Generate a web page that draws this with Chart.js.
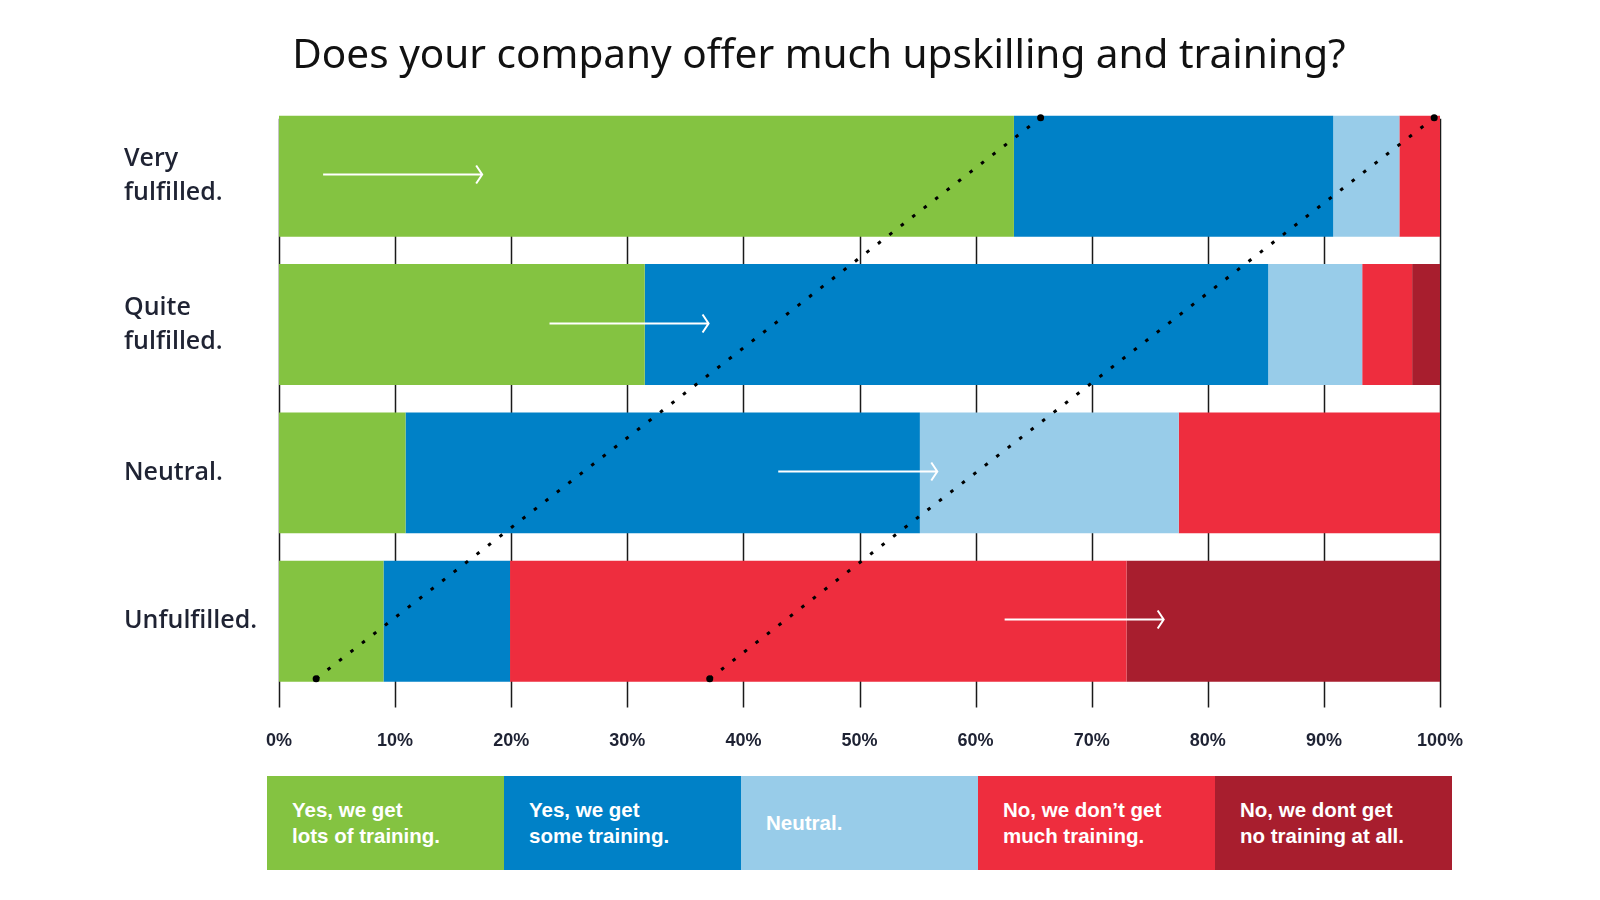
<!DOCTYPE html>
<html>
<head>
<meta charset="utf-8">
<script src="https://cdn.jsdelivr.net/npm/chart.js@4.4.0/dist/chart.umd.min.js"></script>
<style>
  body { margin: 0; background: #fff; }
  #wrap { position: relative; width: 1600px; height: 900px; }
  #chart { position: absolute; left: 0; top: 0; }
  #title { position: absolute; left: 38px; width: 1562px; top: 29px; text-align: center; color: #111;
    font: 40.5px "Noto Sans", sans-serif; line-height: 48px; }
  #legend { position: absolute; left: 267px; top: 776px; width: 1185px; height: 94px; display: flex; }
  #legend div { flex: 1; display: flex; align-items: center; padding-left: 25px; color: #fff;
    font: bold 20.5px "Liberation Sans Narrow", "Liberation Sans", sans-serif; line-height: 26px; }
</style>
</head>
<body>
<div id="wrap">
  <canvas id="chart" width="1600" height="800"></canvas>
  <div id="title">Does your company offer much upskilling and training?</div>
  <div id="legend"></div>
</div>
<script>
const categories = [['Very', 'fulfilled.'], ['Quite', 'fulfilled.'], 'Neutral.', 'Unfulfilled.'];
const seriesNames = [['Yes, we get', 'lots of training.'], ['Yes, we get', 'some training.'], ['Neutral.'],
  ['No, we don\u2019t get', 'much training.'], ['No, we dont get', 'no training at all.']];
const colors = ['#84c341', '#0081c7', '#98cce9', '#ee2d3e', '#a81e2e'];

const lotsOfTraining = [63.3, 31.5, 10.9, 9.0];
const someTraining = [27.5, 53.7, 44.3, 10.9];
const neutral = [5.7, 8.1, 22.3, 0];
const notMuchTraining = [3.5, 4.3, 22.5, 53.1];
const noTraining = [0, 2.4, 0, 27.0];
const seriesValues = [lotsOfTraining, someTraining, neutral, notMuchTraining, noTraining];

// dotted guide lines: % at bottom of last bar -> % at top of first bar
const guideFrom = [3.2, 37.1];
const guideTo = [65.6, 99.5];
// white arrows inside each bar (start %, length %)
const arrowStart = [3.8, 23.3, 43.0, 62.5];
const arrowLength = 13.7;

const overlay = {
  id: 'overlay',
  beforeDatasetsDraw(chart) {
    const ctx = chart.ctx, x = chart.scales.x;
    const first = chart.getDatasetMeta(0).data[0];
    const top = first.y - first.height / 2 + 3;
    ctx.save();
    ctx.strokeStyle = '#1a1a1a';
    ctx.lineWidth = 1.5;
    x.ticks.forEach((t, i) => {
      const px = Math.round(x.getPixelForTick(i)) + 0.5;
      ctx.beginPath();
      ctx.moveTo(px, top);
      ctx.lineTo(px, chart.chartArea.bottom + 12);
      ctx.stroke();
    });
    ctx.restore();
  },
  afterDatasetsDraw(chart) {
    const ctx = chart.ctx, x = chart.scales.x;
    const bars = chart.getDatasetMeta(0).data;
    const top = bars[0].y - bars[0].height / 2;
    const last = bars[bars.length - 1];
    const bottom = last.y + last.height / 2;
    ctx.save();
    // dotted lines
    guideFrom.forEach((v, i) => {
      const x0 = x.getPixelForValue(v), x1 = x.getPixelForValue(guideTo[i]);
      ctx.strokeStyle = '#000';
      ctx.lineWidth = 3;
      ctx.setLineDash([3.5, 11]);
      ctx.beginPath();
      ctx.moveTo(x0, bottom - 3);
      ctx.lineTo(x1, top + 2);
      ctx.stroke();
      ctx.setLineDash([]);
      ctx.fillStyle = '#000';
      [[x0, bottom - 3], [x1, top + 2]].forEach(p => {
        ctx.beginPath();
        ctx.arc(p[0], p[1], 3.5, 0, Math.PI * 2);
        ctx.fill();
      });
    });
    // arrows
    ctx.strokeStyle = '#fff';
    ctx.lineWidth = 2;
    arrowStart.forEach((v, i) => {
      const y = Math.round(bars[i].y) - 1.5;
      const a = x.getPixelForValue(v), b = x.getPixelForValue(v + arrowLength);
      ctx.beginPath();
      ctx.moveTo(a, y);
      ctx.lineTo(b, y);
      ctx.moveTo(b - 6, y - 9);
      ctx.lineTo(b, y);
      ctx.lineTo(b - 6, y + 9);
      ctx.stroke();
    });
    ctx.restore();
  }
};

new Chart(document.getElementById('chart').getContext('2d'), {
  type: 'bar',
  data: {
    labels: categories,
    datasets: seriesValues.map((vals, i) => ({
      label: seriesNames[i].join(' '),
      data: vals,
      backgroundColor: colors[i],
      borderWidth: 0,
      barPercentage: 1,
      categoryPercentage: 0.815
    }))
  },
  options: {
    indexAxis: 'y',
    responsive: false,
    animation: false,
    layout: { padding: { top: 102, left: 124, right: 160, bottom: 13 } },
    plugins: {
      legend: { display: false },
      tooltip: { enabled: false },
      title: { display: false }
    },
    scales: {
      x: {
        stacked: true,
        min: 0,
        max: 100,
        grid: { display: false, drawTicks: false },
        border: { display: false },
        ticks: {
          stepSize: 10,
          padding: 35,
          color: '#1e2233',
          font: { family: '"Liberation Sans Narrow", "Liberation Sans", sans-serif', size: 18, weight: 'bold' },
          callback: v => v + '%'
        }
      },
      y: {
        stacked: true,
        grid: { display: false, drawTicks: false },
        border: { display: false },
        afterFit(scale) { scale.width = 155; },
        ticks: {
          crossAlign: 'far',
          color: '#1f2333',
          font: { family: '"Open Sans", sans-serif', size: 25, weight: '600', lineHeight: 1.35 }
        }
      }
    }
  },
  plugins: [overlay]
});

const legend = document.getElementById('legend');
seriesNames.forEach((name, i) => {
  const d = document.createElement('div');
  d.style.background = colors[i];
  d.innerHTML = name.join('<br>');
  legend.appendChild(d);
});
</script>
</body>
</html>
